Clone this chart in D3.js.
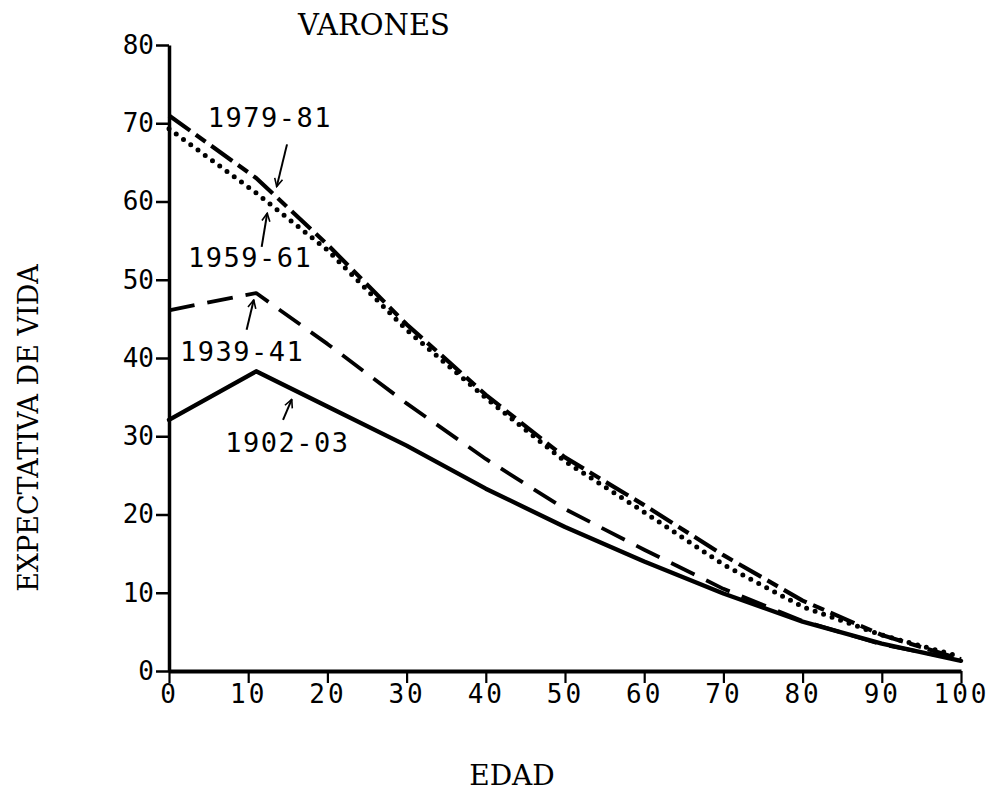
<!DOCTYPE html>
<html>
<head>
<meta charset="utf-8">
<script src="https://cdn.jsdelivr.net/npm/d3@7"></script>
<style>
  body { margin: 0; background: #fff; }
</style>
</head>
<body>
<div id="chart"></div>
<script>
// ages (peak of the older curves sits near 11)
const ages = [0, 11, 20, 30, 40, 50, 60, 70, 80, 90, 100];

// life expectancy per period
const v1979 = [71.0, 63.0, 54.5, 44.3, 35.3, 27.3, 21.2, 14.8, 9.0, 4.6, 1.5];
const v1959 = [69.3, 61.1, 53.8, 43.6, 34.9, 26.8, 20.3, 13.6, 8.2, 4.6, 1.8];
const v1939 = [46.1, 48.3, 41.8, 34.2, 27.1, 20.7, 15.5, 10.5, 6.4, 3.4, 1.4];
const v1902 = [32.1, 38.3, 33.8, 28.8, 23.3, 18.4, 14.0, 9.9, 6.3, 3.5, 1.3];

const periods = ["1979-81", "1959-61", "1939-41", "1902-03"];
const xTicks = [0, 10, 20, 30, 40, 50, 60, 70, 80, 90, 100];
const yTicks = [0, 10, 20, 30, 40, 50, 60, 70, 80];

const svgWidth = 1005;
const svgHeight = 796;

const svg = d3.select("#chart")
    .append("svg")
    .attr("width", svgWidth)
    .attr("height", svgHeight);

const xScale = d3.scaleLinear().domain([0, 100]).range([169, 961]);
const yScale = d3.scaleLinear().domain([0, 80]).range([671, 45]);

// line styles for each period
const styles = {
    "1979-81": { values: v1979, dash: "26,7,12,7", width: 4.2, cap: "butt" },
    "1959-61": { values: v1959, dash: "0,9", width: 5, cap: "round" },
    "1939-41": { values: v1939, dash: "26,13", width: 3.8, cap: "butt" },
    "1902-03": { values: v1902, dash: null, width: 4.4, cap: "round" }
};

// label + arrow positions, in data units (age, years)
const notes = {
    "1979-81": { label: [4.9, 69.5], from: [14.9, 67.3], to: [13.6, 61.9] },
    "1959-61": { label: [2.4, 51.6], from: [11.7, 54.2], to: [12.4, 58.5] },
    "1939-41": { label: [1.4, 39.6], from: [9.8, 43.6], to: [10.7, 47.4] },
    "1902-03": { label: [7.1, 28.0], from: [14.4, 32.1], to: [15.5, 34.7] }
};

const line = d3.line()
    .x((d, i) => xScale(ages[i]))
    .y(d => yScale(d));

periods.forEach(p => {
    const s = styles[p];
    svg.append("path")
        .attr("d", line(s.values))
        .attr("fill", "none")
        .attr("stroke", "#000")
        .attr("stroke-width", s.width)
        .attr("stroke-linecap", s.cap)
        .attr("stroke-linejoin", "round")
        .attr("stroke-dasharray", s.dash);
});

// axes
const xAxis = svg.append("g")
    .attr("transform", `translate(0,${yScale(0)})`)
    .call(d3.axisBottom(xScale).tickValues(xTicks).tickSize(12).tickSizeOuter(0).tickPadding(2));

const yAxis = svg.append("g")
    .attr("transform", `translate(${xScale(0)},0)`)
    .call(d3.axisLeft(yScale).tickValues(yTicks).tickSize(13).tickSizeOuter(0).tickPadding(2));

xAxis.select(".domain").attr("stroke-width", 4);
yAxis.select(".domain").attr("stroke-width", 3.5);
xAxis.selectAll(".tick line").attr("stroke-width", 2.2);
yAxis.selectAll(".tick line").attr("stroke-width", 2.5);

xAxis.selectAll("text")
    .style("font-family", "DejaVu Sans Mono")
    .style("font-size", "26px")
    .style("letter-spacing", "3px")
    .attr("fill", "#000");

yAxis.selectAll("text")
    .style("font-family", "DejaVu Sans Mono")
    .style("font-size", "26px")
    .attr("fill", "#000");

// period labels and small arrows
svg.append("defs").append("marker")
    .attr("id", "head")
    .attr("viewBox", "0 0 10 10")
    .attr("refX", 9)
    .attr("refY", 5)
    .attr("markerWidth", 5)
    .attr("markerHeight", 5)
    .attr("orient", "auto")
    .append("path")
    .attr("d", "M1,1 L9,5 L1,9")
    .attr("fill", "none")
    .attr("stroke", "#000")
    .attr("stroke-width", 1.6);

periods.forEach(p => {
    const n = notes[p];
    svg.append("text")
        .attr("x", xScale(n.label[0]))
        .attr("y", yScale(n.label[1]))
        .style("font-family", "DejaVu Sans Mono")
        .style("font-size", "27px")
        .style("letter-spacing", "1.5px")
        .text(p);

    svg.append("line")
        .attr("x1", xScale(n.from[0]))
        .attr("y1", yScale(n.from[1]))
        .attr("x2", xScale(n.to[0]))
        .attr("y2", yScale(n.to[1]))
        .attr("stroke", "#000")
        .attr("stroke-width", 2)
        .attr("marker-end", "url(#head)");
});

// titles
svg.append("text")
    .attr("x", 374)
    .attr("y", 35)
    .attr("text-anchor", "middle")
    .style("font-family", "DejaVu Serif")
    .style("font-size", "29px")
    .text("VARONES");

svg.append("text")
    .attr("x", 512)
    .attr("y", 785)
    .attr("text-anchor", "middle")
    .style("font-family", "DejaVu Serif")
    .style("font-size", "28px")
    .text("EDAD");

svg.append("text")
    .attr("transform", "translate(38,428) rotate(-90)")
    .attr("text-anchor", "middle")
    .style("font-family", "DejaVu Serif")
    .style("font-size", "27px")
    .text("EXPECTATIVA DE VIDA");
</script>
</body>
</html>
